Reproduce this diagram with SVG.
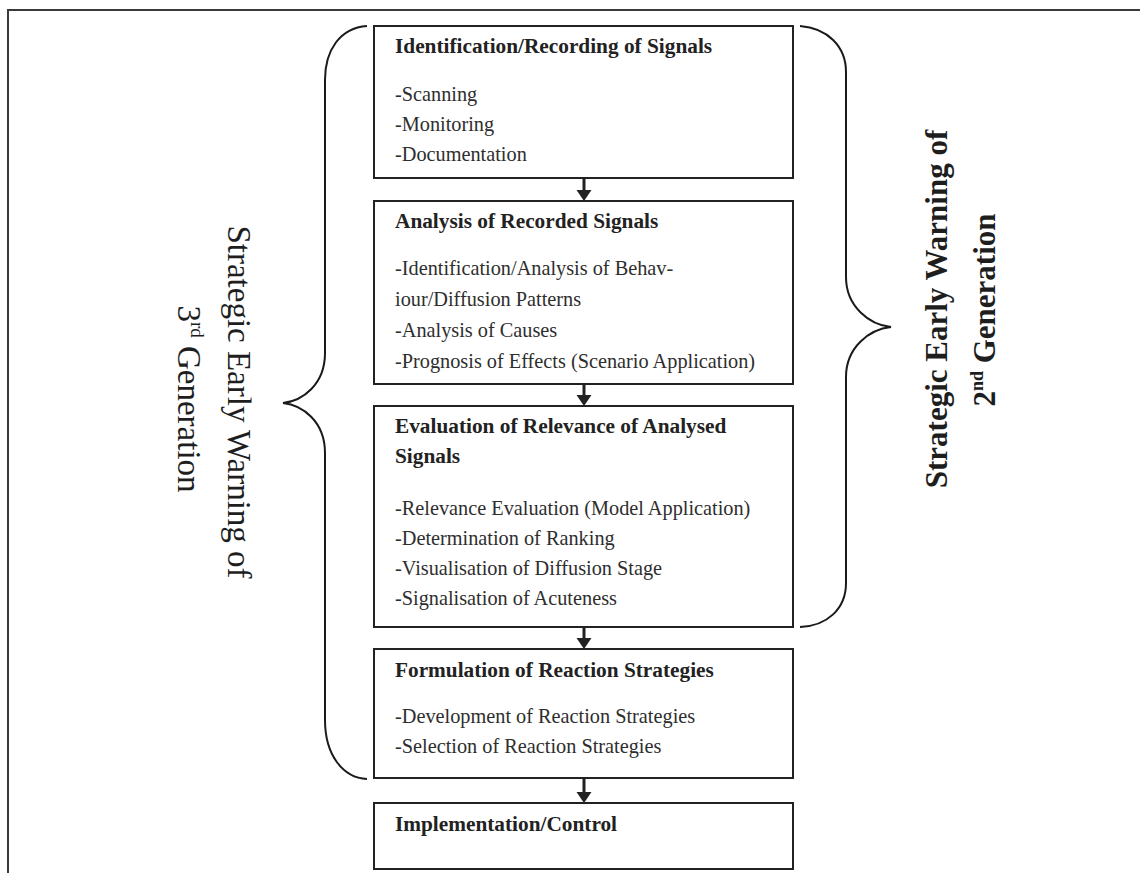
<svg xmlns="http://www.w3.org/2000/svg" width="1140" height="873" viewBox="0 0 1140 873">
<defs>
<style>
.frame{fill:none;stroke:#3a3a3a;stroke-width:2}
.box{fill:#fff;stroke:#222;stroke-width:2}
.brace{fill:none;stroke:#1a1a1a;stroke-width:2}
.shaft{stroke:#222;stroke-width:3;fill:none}
.head{fill:#222;stroke:none}
.t{font-family:"Liberation Serif","Times New Roman",serif;fill:#2e2e2e}
.h{font-size:21.3px;font-weight:bold;fill:#222}
.i{font-size:20.3px}
.side{font-family:"Liberation Serif","Times New Roman",serif;fill:#1e1e1e;text-anchor:middle}
.l{font-size:33px}
.r{font-size:31px;font-weight:bold}
</style>
<path id="arrowhead" class="head" d="M-7.5,0 L7.5,0 L0,11 Z"/>
</defs>
<rect width="1140" height="873" fill="#fff"/>
<path class="frame" d="M8,873 L8,10 L1140,10"/>

<g id="brace-left">
<path class="brace" d="M367,26 C340,28 325,50 325,80 L325,353 C325,385 302,401 283,403 C302,405 325,421 325,453 L325,720 C325,755 343,778 367,779"/>
</g>
<g id="brace-right">
<path class="brace" d="M800,26 C827,28 846,46 846,72 L846,277 C846,307 870,325 891,327 C870,329 846,347 846,377 L846,583 C846,609 827,626 800,627"/>
</g>

<g id="node1">
<rect class="box" x="374" y="26" width="419" height="152"/>
<text class="t h" x="395" y="53">Identification/Recording of Signals</text>
<text class="t i" x="395" y="101">-Scanning</text>
<text class="t i" x="395" y="131">-Monitoring</text>
<text class="t i" x="395" y="161">-Documentation</text>
</g>

<g id="node2">
<rect class="box" x="374" y="201" width="419" height="183"/>
<text class="t h" x="395" y="228">Analysis of Recorded Signals</text>
<text class="t i" x="395" y="275">-Identification/Analysis of Behav-</text>
<text class="t i" x="395" y="306">iour/Diffusion Patterns</text>
<text class="t i" x="395" y="337">-Analysis of Causes</text>
<text class="t i" x="395" y="368">-Prognosis of Effects (Scenario Application)</text>
</g>

<g id="node3">
<rect class="box" x="374" y="406" width="419" height="221"/>
<text class="t h" x="395" y="433">Evaluation of Relevance of Analysed</text>
<text class="t h" x="395" y="463">Signals</text>
<text class="t i" x="395" y="515">-Relevance Evaluation (Model Application)</text>
<text class="t i" x="395" y="545">-Determination of Ranking</text>
<text class="t i" x="395" y="575">-Visualisation of Diffusion Stage</text>
<text class="t i" x="395" y="605">-Signalisation of Acuteness</text>
</g>

<g id="node4">
<rect class="box" x="374" y="649" width="419" height="129"/>
<text class="t h" x="395" y="677">Formulation of Reaction Strategies</text>
<text class="t i" x="395" y="723">-Development of Reaction Strategies</text>
<text class="t i" x="395" y="753">-Selection of Reaction Strategies</text>
</g>

<g id="node5">
<rect class="box" x="374" y="803" width="419" height="66"/>
<text class="t h" x="395" y="831">Implementation/Control</text>
</g>

<g id="connectors">
<line class="shaft" x1="584" y1="179" x2="584" y2="191"/>
<use href="#arrowhead" x="584" y="190"/>
<line class="shaft" x1="584" y1="385" x2="584" y2="396"/>
<use href="#arrowhead" x="584" y="395"/>
<line class="shaft" x1="584" y1="628" x2="584" y2="639"/>
<use href="#arrowhead" x="584" y="638"/>
<line class="shaft" x1="584" y1="779" x2="584" y2="793"/>
<use href="#arrowhead" x="584" y="792"/>
</g>

<g id="label-left">
<text class="side l" transform="translate(228,402) rotate(90)">Strategic Early Warning of</text>
<text class="side l" transform="translate(178,399) rotate(90)">3<tspan font-size="19" dy="-13">rd</tspan><tspan dy="13"> Generation</tspan></text>
</g>

<g id="label-right">
<text class="side r" transform="translate(947,309) rotate(-90)">Strategic Early Warning of</text>
<text class="side r" transform="translate(995,310) rotate(-90)">2<tspan font-size="18" dy="-12">nd</tspan><tspan dy="12"> Generation</tspan></text>
</g>
</svg>
